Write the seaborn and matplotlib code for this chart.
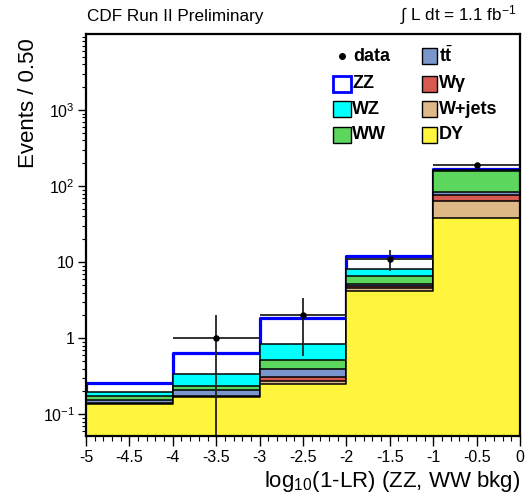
import numpy as np
import matplotlib
matplotlib.use("Agg")
import matplotlib.pyplot as plt
import matplotlib.ticker as mticker
from matplotlib.patches import Rectangle
import seaborn as sns

# ---- data ----
edges = [-5, -4, -3, -2, -1, 0]
centers = [-4.5, -3.5, -2.5, -1.5, -0.5]
dy = [0.137, 0.168, 0.248, 4.15, 37.6]
wjets = [0.002, 0.002, 0.026, 0.44, 25.3]
wgamma = [0.002, 0.002, 0.039, 0.26, 14.0]
ttbar = [0.015, 0.035, 0.078, 0.29, 6.0]
ww = [0.017, 0.030, 0.127, 1.46, 73.0]
wz = [0.024, 0.100, 0.316, 1.66, 5.0]
zz = [0.061, 0.310, 1.040, 3.64, 6.5]
data = [0, 1, 2, 11, 190]

xticks = [-5, -4.5, -4, -3.5, -3, -2.5, -2, -1.5, -1, -0.5, 0]
yticks = [0.1, 1, 10, 100, 1000]
ytick_labels = ["$10^{-1}$", "1", "10", "$10^{2}$", "$10^{3}$"]

# ---- style ----
sns.set_style("ticks")
plt.rcParams["font.family"] = ["Liberation Sans", "DejaVu Sans"]
plt.rcParams["mathtext.fontset"] = "custom"
plt.rcParams["mathtext.rm"] = "Liberation Sans"
plt.rcParams["mathtext.it"] = "Liberation Sans:italic"
plt.rcParams["mathtext.bf"] = "Liberation Sans:bold"
plt.rcParams["axes.unicode_minus"] = False
for k in ["text.color", "axes.labelcolor", "xtick.color", "ytick.color",
          "axes.edgecolor", "xtick.labelcolor", "ytick.labelcolor"]:
    plt.rcParams[k] = "black"

fig = plt.figure(figsize=(5.30, 4.99), dpi=100)
ax = fig.add_axes([86 / 530, 1 - 436 / 499, 434 / 530, 402 / 499])
ax.set_yscale("log")

# stack from bottom: DY, W+jets, Wgamma, ttbar, WW, WZ, ZZ
layers = [
    ("DY", dy, "#FFF53D", "black", 1.1),
    ("W+jets", wjets, "#DEB887", "black", 1.1),
    ("Wγ", wgamma, "#D65A50", "black", 1.1),
    ("tt", ttbar, "#7A96CD", "black", 1.1),
    ("WW", ww, "#5CD65C", "black", 1.1),
    ("WZ", wz, "#00FFFF", "black", 1.1),
    ("ZZ", zz, "#FFFFFF", "#0000FF", 2.3),
]
cums = np.cumsum(np.array([l[1] for l in layers]), axis=0)
# draw from top (total) down so lower layers paint over
for i in range(len(layers) - 1, -1, -1):
    name, vals, fc, ec, lw = layers[i]
    sns.histplot(x=centers, weights=cums[i], bins=edges, element="step",
                 fill=True, color=fc, edgecolor=ec, linewidth=lw, alpha=1.0,
                 ax=ax)

# data points with Poisson errors
d = np.array(data, dtype=float)
c = np.array(centers)
m = d > 0
err = np.sqrt(d[m])
lo = np.minimum(err, d[m] * (1 - 1e-4))
ax.errorbar(c[m], d[m], xerr=0.5, yerr=[lo, err], fmt="none",
            ecolor="#222222", elinewidth=1.3, capsize=0, zorder=10)
sns.scatterplot(x=c[m], y=d[m], color="black", s=22, edgecolor="black",
                linewidth=0, zorder=11, ax=ax)

ax.set_xlim(-5, 0)
ax.set_ylim(0.052, 9999)
ax.set_xlabel("")
ax.set_ylabel("")

ax.xaxis.set_major_locator(mticker.FixedLocator(xticks))
ax.xaxis.set_major_formatter(mticker.FuncFormatter(lambda v, p: f"{v:g}"))
ax.xaxis.set_minor_locator(mticker.MultipleLocator(0.1))
ax.yaxis.set_major_locator(mticker.FixedLocator(yticks))
ax.yaxis.set_major_formatter(mticker.FixedFormatter(ytick_labels))
ax.yaxis.set_minor_locator(mticker.LogLocator(base=10, subs=np.arange(2, 10), numticks=20))
ax.yaxis.set_minor_formatter(mticker.NullFormatter())

ax.tick_params(axis="x", which="major", direction="out", length=7, width=1.0,
               labelsize=11.5, pad=3, colors="black")
ax.tick_params(axis="x", which="minor", direction="out", length=3.5, width=0.8,
               colors="black")
ax.tick_params(axis="y", which="major", direction="out", length=6, width=1.0,
               labelsize=11.5, pad=2, colors="black")
ax.tick_params(axis="y", which="minor", direction="out", length=3, width=0.8,
               colors="black")
for s in ax.spines.values():
    s.set_linewidth(1.6)
    s.set_color("black")
    s.set_visible(True)
    s.set_zorder(20)

# legend (manual, two columns)
fs = 13
col1_box, col2_box = 0.569, 0.774
bw, bh = 0.041, 0.040
rows = [0.945, 0.876, 0.813, 0.749]
ax.plot([0.590], [rows[0]], "o", color="black", ms=4, transform=ax.transAxes, zorder=30)
ax.text(0.615, rows[0], "data", transform=ax.transAxes, fontsize=fs,
        fontweight="bold", va="center", ha="left", zorder=30, color="black")
leg1 = [("ZZ", "#FFFFFF", "#0000FF", 2.0), ("WZ", "#00FFFF", "black", 1.0),
        ("WW", "#5CD65C", "black", 1.0)]
for (lab, fc, ec, lw), r in zip(leg1, rows[1:]):
    ax.add_patch(Rectangle((col1_box, r - bh / 2), bw, bh, facecolor=fc,
                           edgecolor=ec, linewidth=lw, transform=ax.transAxes,
                           zorder=30))
    ax.text(col1_box + bw + 0.004, r, lab, transform=ax.transAxes, fontsize=fs,
            fontweight="bold", va="center", ha="left", zorder=30, color="black")
leg2 = [("t$\\bar{\\mathbf{t}}$", "#7A96CD"), ("Wγ", "#D65A50"),
        ("W+jets", "#DEB887"), ("DY", "#FFF53D")]
for (lab, fc), r in zip(leg2, rows):
    ax.add_patch(Rectangle((col2_box, r - bh / 2), bw * 0.85, bh, facecolor=fc,
                           edgecolor="black", linewidth=1.0,
                           transform=ax.transAxes, zorder=30))
    ax.text(col2_box + bw * 0.85 + 0.004, r, lab, transform=ax.transAxes,
            fontsize=fs, fontweight="bold", va="center", ha="left", zorder=30,
            color="black")

# texts
fig.text(87 / 530, 1 - 16 / 499, "CDF Run II Preliminary", fontsize=12.3,
         ha="left", va="center", color="black")
fig.text(516 / 530, 1 - 15 / 499, "∫ L dt = 1.1 fb$^{-1}$", fontsize=12.3,
         ha="right", va="center", color="black")
fig.text(28 / 530, 1 - 38 / 499, "Events / 0.50", fontsize=16, rotation=90,
         ha="center", va="top", color="black")
fig.text(520 / 530, 1 - 481 / 499, "log$_{10}$(1-LR) (ZZ, WW bkg)", fontsize=16,
         ha="right", va="center", color="black")

fig.savefig("out.png", dpi=100)
